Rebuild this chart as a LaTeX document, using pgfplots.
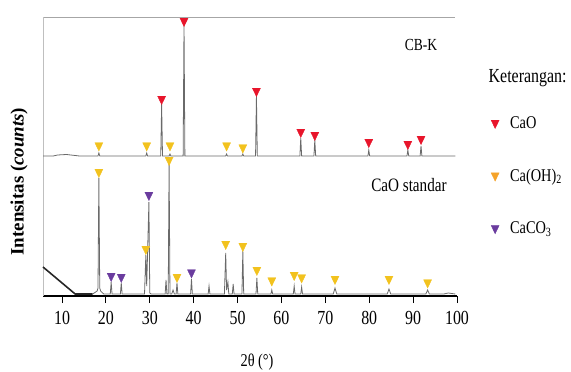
\documentclass[border=0pt]{standalone}
\usepackage{fontspec}
\setmainfont{Liberation Serif}[FakeStretch=0.8]
\newfontfamily\labfont{Liberation Serif}
\usepackage{pgfplots}
\pgfplotsset{compat=1.18}
\definecolor{cao}{HTML}{E8152B}
\definecolor{caoh}{HTML}{F2C21E}
\definecolor{caohleg}{HTML}{F5A32A}
\definecolor{caco}{HTML}{6A3C9E}
\definecolor{spec}{HTML}{6A6A6A}
\begin{document}
\begin{tikzpicture}
\useasboundingbox (0,0) rectangle (571bp,372bp);
\begin{axis}[
  at={(43bp,76bp)}, anchor=south west, scale only axis,
  width=414bp, height=279bp,
  xmin=5.67, xmax=100, ymin=0, ymax=279,
  axis line style={draw=none},
  xtick={10,20,...,100}, xtick pos=left, tick align=outside,
  major tick length=7bp,
  x tick style={black, line width=1bp},
  ytick=\empty,
  /pgf/number format/assume math mode=true,
  xticklabel style={font=\fontsize{20}{20}\selectfont, yshift=-5bp},
  clip=false,
  legend style={draw=none, fill=none, font=\fontsize{18}{18}\selectfont,
    at={(rel axis cs:1.082,0.652)}, anchor=north west, row sep=35bp,
    column sep=9bp, inner sep=0pt},
  legend cell align=left,
]
\draw[black, line width=1.2bp] (rel axis cs:0,0) -- (rel axis cs:1,0);
\draw[gray!70, line width=0.8bp] (rel axis cs:0,1) -- (rel axis cs:0.995,1);
\draw[gray!50, line width=0.8bp] (rel axis cs:0,0) -- (rel axis cs:0,1);

% CB-K spectrum (offset baseline 140)
\addplot[spec, line width=0.8bp, forget plot] coordinates {
(5.67,140) (8,140) (9,141) (11,141.5) (13,140.5) (14,140)
(18.2,140)(18.4,143)(18.6,140)
(29.1,140)(29.3,143)(29.5,140)
(32.5,140)(32.7,192)(32.9,140)
(34.4,140)(34.6,142)(34.8,140)
(37.6,140)(37.8,272)(38.0,140)
(47.3,140)(47.5,142)(47.7,140)
(51.0,140)(51.2,142)(51.4,140)
(54.1,140)(54.3,200)(54.5,140)
(64.2,140)(64.4,158)(64.6,140)
(67.4,140)(67.6,156)(67.8,140)
(79.7,140)(79.9,146)(80.1,140)
(88.6,140)(88.8,146)(89.0,140)
(91.6,140)(91.8,150)(92.0,140)
(99.6,140)
};

% CaO standar spectrum (baseline 2)
\addplot[black!85, line width=1.6bp, forget plot] coordinates {
(5.67,29)(13.0,2)(17.0,2)
};
\addplot[spec, line width=0.8bp, forget plot] coordinates {
(17.0,2)(18.0,5)(18.2,8)(18.4,118)(18.6,8)(18.8,5)(19.5,2)
(21.0,2)(21.2,14)(21.4,2)
(23.3,2)(23.5,13)(23.7,2)
(28.8,2)(29.1,41)(29.3,10)(29.8,94)(30.0,3)(30.3,2)
(33.5,2)(33.7,16)(33.9,2)(34.2,2)(34.4,133)(34.6,2)
(35.0,2)(35.3,6)(35.6,2)
(36.0,2)(36.2,13)(36.4,2)
(39.3,2)(39.5,17)(39.7,2)
(43.3,2)(43.5,10)(43.7,2)
(47.0,2)(47.3,43)(47.5,6)(47.8,14)(48.0,2)
(48.8,2)(49.0,12)(49.2,2)
(51.0,2)(51.2,45)(51.4,2)
(54.2,2)(54.4,18)(54.6,2)
(57.6,2)(57.8,6)(58.0,2)
(62.7,2)(62.9,10)(63.1,2)
(64.4,2)(64.6,9)(64.8,2)
(71.8,2)(72.2,8)(72.6,2)
(84.1,2)(84.5,7)(84.9,2)
(92.9,2)(93.3,6)(93.7,2)
(97,2)(98,3)(99.6,2)
};

% markers
\addplot[only marks, mark=triangle*, mark size=4.6bp, color=cao,
  mark options={rotate=180, yscale=1.2}, forget plot] coordinates {
(32.7,197)(37.8,275)(54.3,205)(64.4,164)(67.6,161)(79.9,154)(88.8,152)(91.8,157)
};
\addplot[only marks, mark=triangle*, mark size=4.6bp, color=caoh,
  mark options={rotate=180, yscale=1.2}, forget plot] coordinates {
(18.4,150.5)(29.3,150.5)(34.6,150.5)(47.5,150.5)(51.2,148.5)
(18.4,124)(34.4,136)(29.1,47)(36.2,19)(47.3,52)(51.2,50)(54.4,26)
(57.8,15.5)(62.9,21)(64.6,18.5)(72.2,17)(84.5,17)(93.3,13.5)
};
\addplot[only marks, mark=triangle*, mark size=4.6bp, color=caco,
  mark options={rotate=180, yscale=1.2}, forget plot] coordinates {
(21.2,20)(23.5,19)(29.8,101)(39.5,23.5)
};

\addlegendimage{only marks, mark=triangle*, mark size=4.6bp, color=cao, mark options={rotate=180, yscale=1.2}}
\addlegendentry{CaO}
\addlegendimage{only marks, mark=triangle*, mark size=4.6bp, color=caohleg, mark options={rotate=180, yscale=1.2}}
\addlegendentry{Ca(OH)\textsubscript{2}}
\addlegendimage{only marks, mark=triangle*, mark size=4.6bp, color=caco, mark options={rotate=180, yscale=1.2}}
\addlegendentry{CaCO\textsubscript{3}}

\node[anchor=west, font=\fontsize{20}{20}\selectfont] at (rel axis cs:1.068,0.781) {Keterangan:};
\node[font=\fontsize{17}{17}\selectfont] at (rel axis cs:0.913,0.900) {CB-K};
\node[font=\fontsize{19}{19}\selectfont] at (rel axis cs:0.884,0.398) {CaO standar};
\node[font=\fontsize{18}{18}\selectfont] at (rel axis cs:0.517,-0.237) {2θ (°)};
\node[rotate=90, font=\fontsize{19}{19}\selectfont\labfont\bfseries] at (rel axis cs:-0.058,0.41) {Intensitas (\textit{counts})};
\end{axis}
\end{tikzpicture}
\end{document}
